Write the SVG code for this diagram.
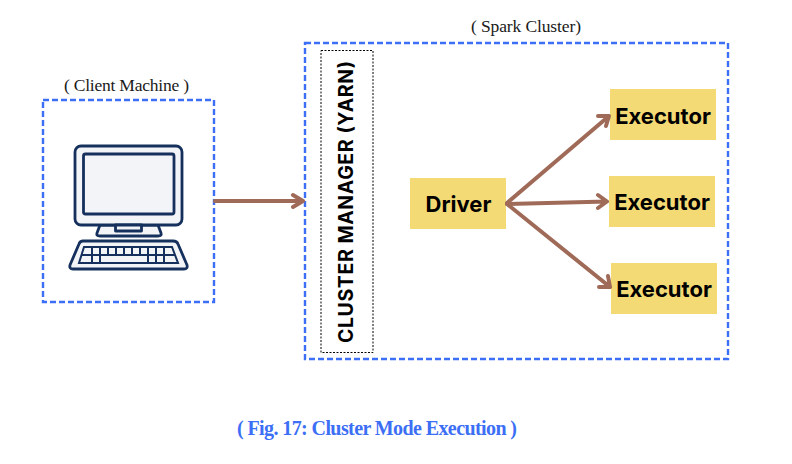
<svg xmlns="http://www.w3.org/2000/svg" width="792" height="464" viewBox="0 0 792 464">
<style>
.zone{fill:none;stroke:#3c6ff5;stroke-width:2.400;stroke-dasharray:6 3}
.box{fill:#f4da74}
.lbl{font-family:"Liberation Serif","Noto Serif",serif;font-size:17.500px;fill:#1a1a1a}
.ex{font-family:Inter,"Liberation Sans",sans-serif;font-weight:700;font-size:22px;fill:#000;text-anchor:middle}
.ic{fill:#f3f4f7;stroke:#15305c;stroke-width:2.800;stroke-linejoin:round}
.k{fill:none;stroke:#15305c;stroke-width:2}
.c{fill:none;stroke:#9f6b58;stroke-width:4;stroke-linecap:round;stroke-linejoin:round}
</style>
<rect width="792" height="464" fill="#fff"/>
<g id="client-machine">
<rect class="zone" x="43" y="100" width="171" height="202"/>
<text class="lbl" x="64" y="91" textLength="125">( Client Machine )</text>
<g id="computer-icon">
<path class="ic" d="M100 225h58l3 8q1 3-3 3h-58q-4 0-3-3z"/>
<rect class="ic" x="75" y="146" width="107" height="79" rx="6"/>
<rect class="ic" x="83.500" y="154" width="90.500" height="60" rx="2"/>
<rect class="ic" x="115.500" y="225" width="26" height="6" fill="none"/>
<path class="ic" d="M83 241h90q4 0 5 3l9 21q1 4-3 4H73q-4 0-3-4l9-21q1-3 4-3z"/>
<path class="k" d="M84 247h88l6 16H79zM81.500 255h93M92 247v16M100 247v16M108 247v8M116 247v8M124 247v8M132 247v8M140 247v8M148 247v16M156 247v16M164 247v16"/>
</g>
</g>
<g id="spark-cluster">
<rect class="zone" x="305" y="43" width="423" height="316"/>
<text class="lbl" x="471" y="32" textLength="110">( Spark Cluster)</text>
</g>
<g id="cluster-manager">
<rect x="321" y="50.500" width="52" height="302" fill="none" stroke="#000" stroke-width="1" stroke-dasharray="2 1.500"/>
<text transform="translate(353 343) rotate(-90)" font-family="Inter,'Liberation Sans',sans-serif" font-weight="700" font-size="19.500" fill="#000" textLength="282">CLUSTER MANAGER (YARN)</text>
</g>
<g id="driver"><rect class="box" x="410" y="178" width="96" height="51"/><text class="ex" x="458.500" y="212">Driver</text></g>
<g id="executor-1"><rect class="box" x="610" y="89" width="106" height="51"/><text class="ex" x="663" y="124">Executor</text></g>
<g id="executor-2"><rect class="box" x="609" y="176" width="106" height="51"/><text class="ex" x="662" y="210">Executor</text></g>
<g id="executor-3"><rect class="box" x="611" y="263" width="106" height="51"/><text class="ex" x="664" y="297">Executor</text></g>
<g id="connectors">
<path class="c" d="M215 201H303M293 195l10 6-10 6"/>
<path class="c" d="M507 203L609 116M598 116l11 0-3 10"/>
<path class="c" d="M507 204L607 201.500M598 195l9 6.500-9 6.500"/>
<path class="c" d="M507 204L610 287M599 287l11 0-2-11"/>
</g>
<text x="237" y="435" font-family="'Liberation Serif','Noto Serif',serif" font-weight="700" font-size="20" fill="#3c6ff5" textLength="280">( Fig. 17: Cluster Mode Execution )</text>
</svg>
